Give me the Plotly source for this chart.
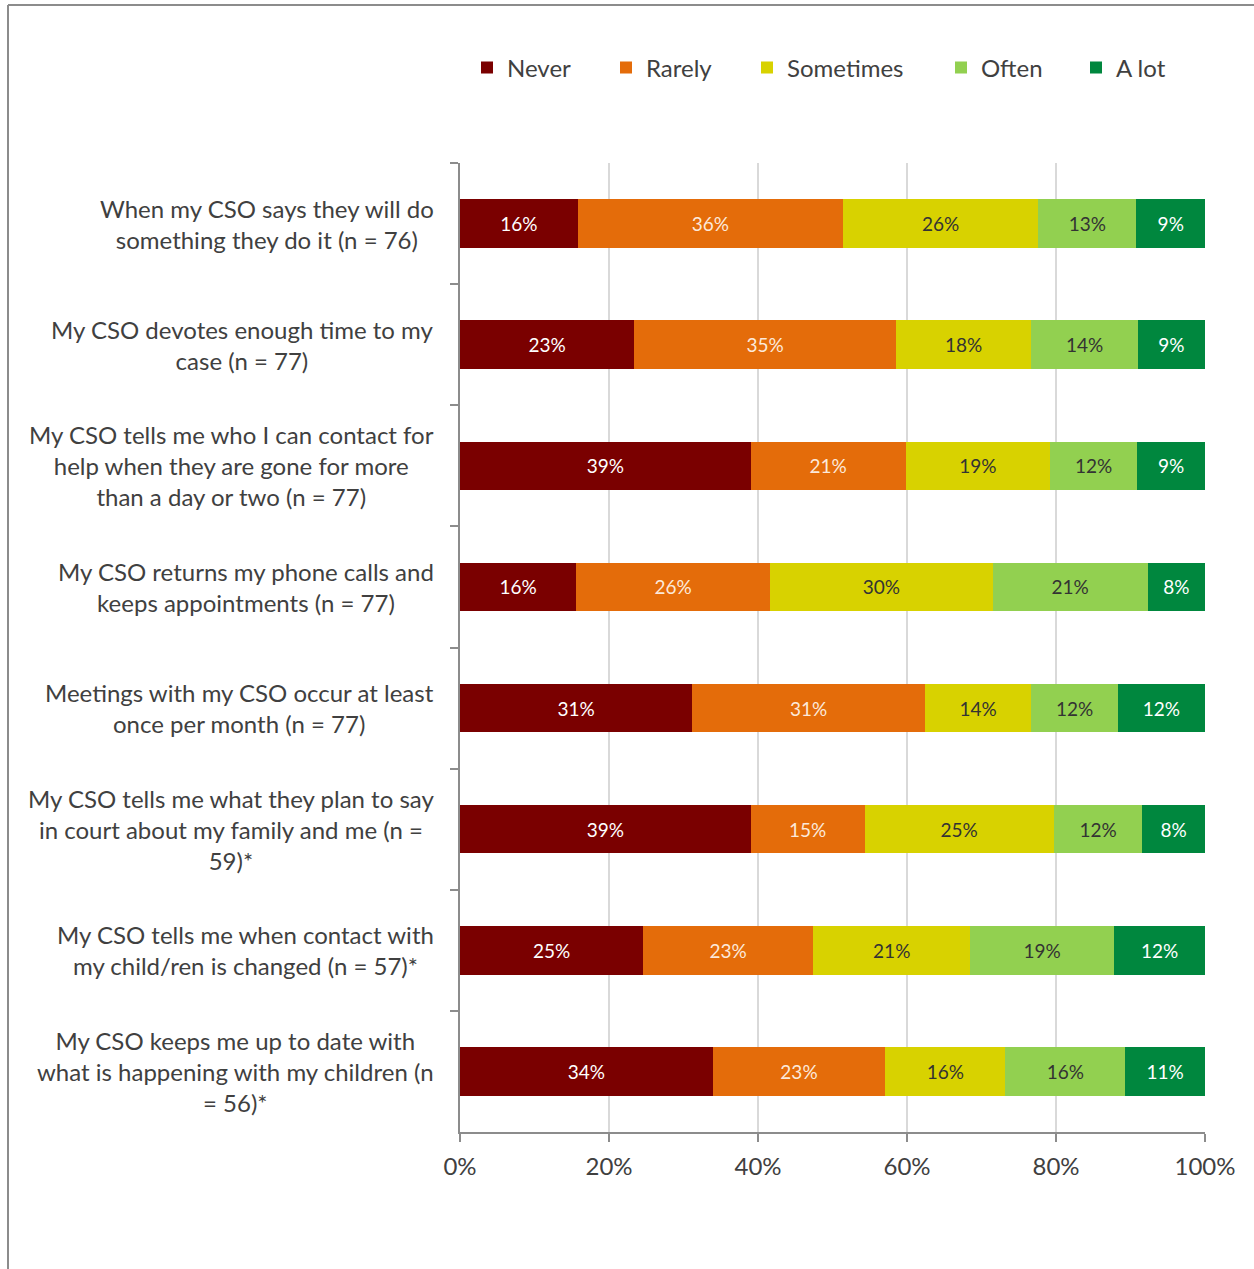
import plotly.graph_objects as go

categories = [
    "When my CSO says they will do<br>something they do it (n = 76)",
    "My CSO devotes enough time to my<br>case (n = 77)",
    "My CSO tells me who I can contact for<br>help when they are gone for more<br>than a day or two (n = 77)",
    "My CSO returns my phone calls and<br>keeps appointments (n = 77)",
    "Meetings with my CSO occur at least<br>once per month (n = 77)",
    "My CSO tells me what they plan to say<br>in court about my family and me (n =<br>59)*",
    "My CSO tells me when contact with<br>my child/ren is changed (n = 57)*",
    "My CSO keeps me up to date with<br>what is happening with my children (n<br>= 56)*",
]

never     = [15.8, 23.4, 39.0, 15.6, 31.2, 39.0, 24.6, 33.9]
rarely    = [35.6, 35.1, 20.8, 26.0, 31.2, 15.3, 22.8, 23.2]
sometimes = [26.2, 18.2, 19.4, 29.9, 14.3, 25.4, 21.1, 16.1]
often     = [13.2, 14.3, 11.7, 20.8, 11.6, 11.9, 19.3, 16.1]
a_lot     = [9.2, 9.0, 9.1, 7.7, 11.7, 8.4, 12.2, 10.7]

series_names = ["Never", "Rarely", "Sometimes", "Often", "A lot"]
series_vals = [never, rarely, sometimes, often, a_lot]
colors = ["#7A0000", "#E46C0A", "#D8D200", "#92D050", "#00873E"]
text_colors = ["#FFFFFF", "#FCE9DA", "#333333", "#333333", "#FFFFFF"]

x_ticks = [0, 20, 40, 60, 80, 100]
x_tick_labels = ["0%", "20%", "40%", "60%", "80%", "100%"]

FONT = "Lato"

# plot area: x 460..1205, y 163..1132
W, H = 1254, 1269
L, R, T, B = 460, W - 1205, 163, H - 1132
pw, ph = W - L - R, H - T - B

def px_x(p):
    return (p - L) / pw

def px_y(p):
    return (H - B - p) / ph

legend_names = ["legend", "legend2", "legend3", "legend4", "legend5"]
legend_text_starts = [503, 642, 783, 977, 1112]

fig = go.Figure()
for name, vals, col, tcol, lg in zip(series_names, series_vals, colors,
                                     text_colors, legend_names):
    fig.add_trace(go.Bar(
        y=categories, x=vals, name=name, orientation="h",
        marker=dict(color=col, line=dict(width=0)),
        texttemplate="%{x:.0f}%", textposition="inside",
        insidetextanchor="middle", constraintext="none",
        textfont=dict(color=tcol, size=19, family=FONT),
        hoverinfo="skip", legend=lg,
    ))

legend_layout = {}
for lg, ts in zip(legend_names, legend_text_starts):
    legend_layout[lg] = dict(
        orientation="h", x=px_x(ts - 36), xanchor="left",
        y=px_y(68), yanchor="middle",
        font=dict(size=24, family=FONT, color="#404040"),
        itemwidth=30, bgcolor="rgba(0,0,0,0)",
    )

annotations = []
for c in categories:
    annotations.append(dict(
        x=px_x(436), xref="paper", y=c, yref="y",
        text=c, showarrow=False, xanchor="right", yanchor="middle",
        align="center", font=dict(size=24, family=FONT, color="#404040"),
    ))

shapes = [
    dict(type="line", xref="paper", yref="paper",
         x0=px_x(8), x1=px_x(1254), y0=px_y(5), y1=px_y(5),
         line=dict(color="#8C8C8C", width=2)),
    dict(type="line", xref="paper", yref="paper",
         x0=px_x(8), x1=px_x(8), y0=px_y(5), y1=px_y(1269),
         line=dict(color="#8C8C8C", width=2)),
]

fig.update_layout(
    barmode="stack",
    bargap=0.6,
    width=W, height=H,
    margin=dict(l=L, r=R, t=T, b=B),
    paper_bgcolor="white", plot_bgcolor="white",
    font=dict(family=FONT, size=22, color="#404040"),
    showlegend=True,
    xaxis=dict(range=[0, 100], tickvals=x_ticks, ticktext=x_tick_labels,
               showgrid=True, gridcolor="#D9D9D9", gridwidth=2,
               showline=True, linecolor="#8C8C8C", linewidth=2,
               ticks="outside", ticklen=8, tickcolor="#8C8C8C", tickwidth=2,
               ticklabelstandoff=4,
               tickfont=dict(size=24, family=FONT, color="#404040"),
               zeroline=False, fixedrange=True),
    yaxis=dict(categoryorder="array", categoryarray=categories,
               autorange="reversed", showticklabels=False,
               showline=True, linecolor="#8C8C8C", linewidth=2,
               ticks="outside", ticklen=8, tickcolor="#8C8C8C", tickwidth=2,
               tickson="boundaries", showgrid=False, zeroline=False,
               fixedrange=True),
    annotations=annotations,
    shapes=shapes,
    **legend_layout,
)

fig.write_html("out.html")
